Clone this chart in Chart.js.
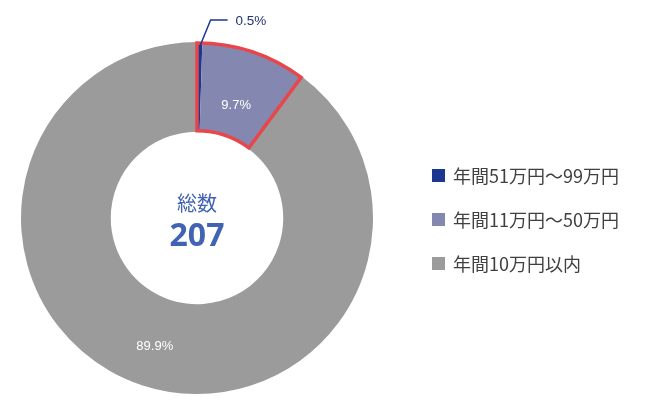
<!DOCTYPE html>
<html>
<head>
<meta charset="utf-8">
<script src="https://cdn.jsdelivr.net/npm/chart.js@4.4.0/dist/chart.umd.min.js"></script>
<style>
  html, body { margin: 0; padding: 0; background: #fff; }
  #wrap { width: 664px; height: 403px; position: relative; }
</style>
</head>
<body>
<div id="wrap"><canvas id="chart"></canvas></div>
<script>
// data
const categories = ['年間51万円～99万円', '年間11万円～50万円', '年間10万円以内'];
const counts = [1, 20, 186];
const colors = ['#1b3790', '#8488b0', '#9b9b9b'];
const centerTitle = '総数';

const total = counts.reduce((a, b) => a + b, 0);
const FONT = '"Noto Sans CJK JP", "Noto Sans", sans-serif';
// where inside the ring each inner label sits (0 = inner edge, 1 = outer edge)
const labelPos = [null, 0.37, 0.54];

// labels, leader line, highlight border, center text, legend
const overlay = {
  id: 'overlay',
  afterDatasetsDraw(chart) {
    const c = chart.ctx;
    const arcs = chart.getDatasetMeta(0).data;

    // red outline around the first two slices
    const a0 = arcs[0], a1 = arcs[1];
    c.save();
    c.beginPath();
    c.arc(a0.x, a0.y, a0.outerRadius - 1, a0.startAngle, a1.endAngle);
    c.arc(a0.x, a0.y, a0.innerRadius + 1, a1.endAngle, a0.startAngle, true);
    c.closePath();
    c.strokeStyle = '#e8464a';
    c.lineWidth = 3.5;
    c.stroke();
    c.restore();

    // percentage labels
    c.save();
    c.font = '13px "Liberation Sans", Arial, sans-serif';
    c.textAlign = 'center';
    c.textBaseline = 'middle';
    arcs.forEach((arc, i) => {
      const txt = (counts[i] / total * 100).toFixed(1) + '%';
      const mid = (arc.startAngle + arc.endAngle) / 2;
      if (i === 0) {
        const sx = arc.x + Math.cos(mid) * (arc.outerRadius - 5);
        const sy = arc.y + Math.sin(mid) * (arc.outerRadius - 5);
        c.beginPath();
        c.moveTo(sx, sy);
        c.lineTo(sx + 11, sy - 27);
        c.lineTo(sx + 28, sy - 27);
        c.strokeStyle = '#1b3790';
        c.lineWidth = 1.5;
        c.stroke();
        c.fillStyle = '#1f3470';
        c.textAlign = 'left';
        c.font = '13.5px "Liberation Sans", Arial, sans-serif';
        c.fillText(txt, sx + 36, sy - 26);
        c.font = '13px "Liberation Sans", Arial, sans-serif';
        c.textAlign = 'center';
      } else {
        const r = arc.innerRadius + (arc.outerRadius - arc.innerRadius) * labelPos[i];
        c.fillStyle = '#ffffff';
        c.fillText(txt, arc.x + Math.cos(mid) * r, arc.y + Math.sin(mid) * r);
      }
    });

    // center text
    const cx = a0.x, cy = a0.y;
    c.fillStyle = '#4262b4';
    c.font = '20px ' + FONT;
    c.fillText(centerTitle, cx, cy - 15);
    c.font = 'bold 32px "Noto Sans", ' + FONT;
    c.fillText(String(total), cx, cy + 19);

    // legend
    c.textAlign = 'left';
    c.font = '18px ' + FONT;
    categories.forEach((lab, i) => {
      const y = 175 + i * 44;
      c.fillStyle = colors[i];
      c.fillRect(432, y - 6, 13, 13);
      c.fillStyle = '#404040';
      c.fillText(lab, 453, y + 1);
    });
    c.restore();
  }
};

new Chart(document.getElementById('chart'), {
  type: 'doughnut',
  data: {
    labels: categories,
    datasets: [{
      data: counts,
      backgroundColor: colors,
      borderWidth: 0
    }]
  },
  options: {
    responsive: true,
    maintainAspectRatio: false,
    animation: false,
    cutout: '49%',
    layout: { padding: { top: 42, bottom: 9, left: 21, right: 291 } },
    plugins: {
      legend: { display: false },
      tooltip: { enabled: false }
    }
  },
  plugins: [overlay]
});
</script>
</body>
</html>
